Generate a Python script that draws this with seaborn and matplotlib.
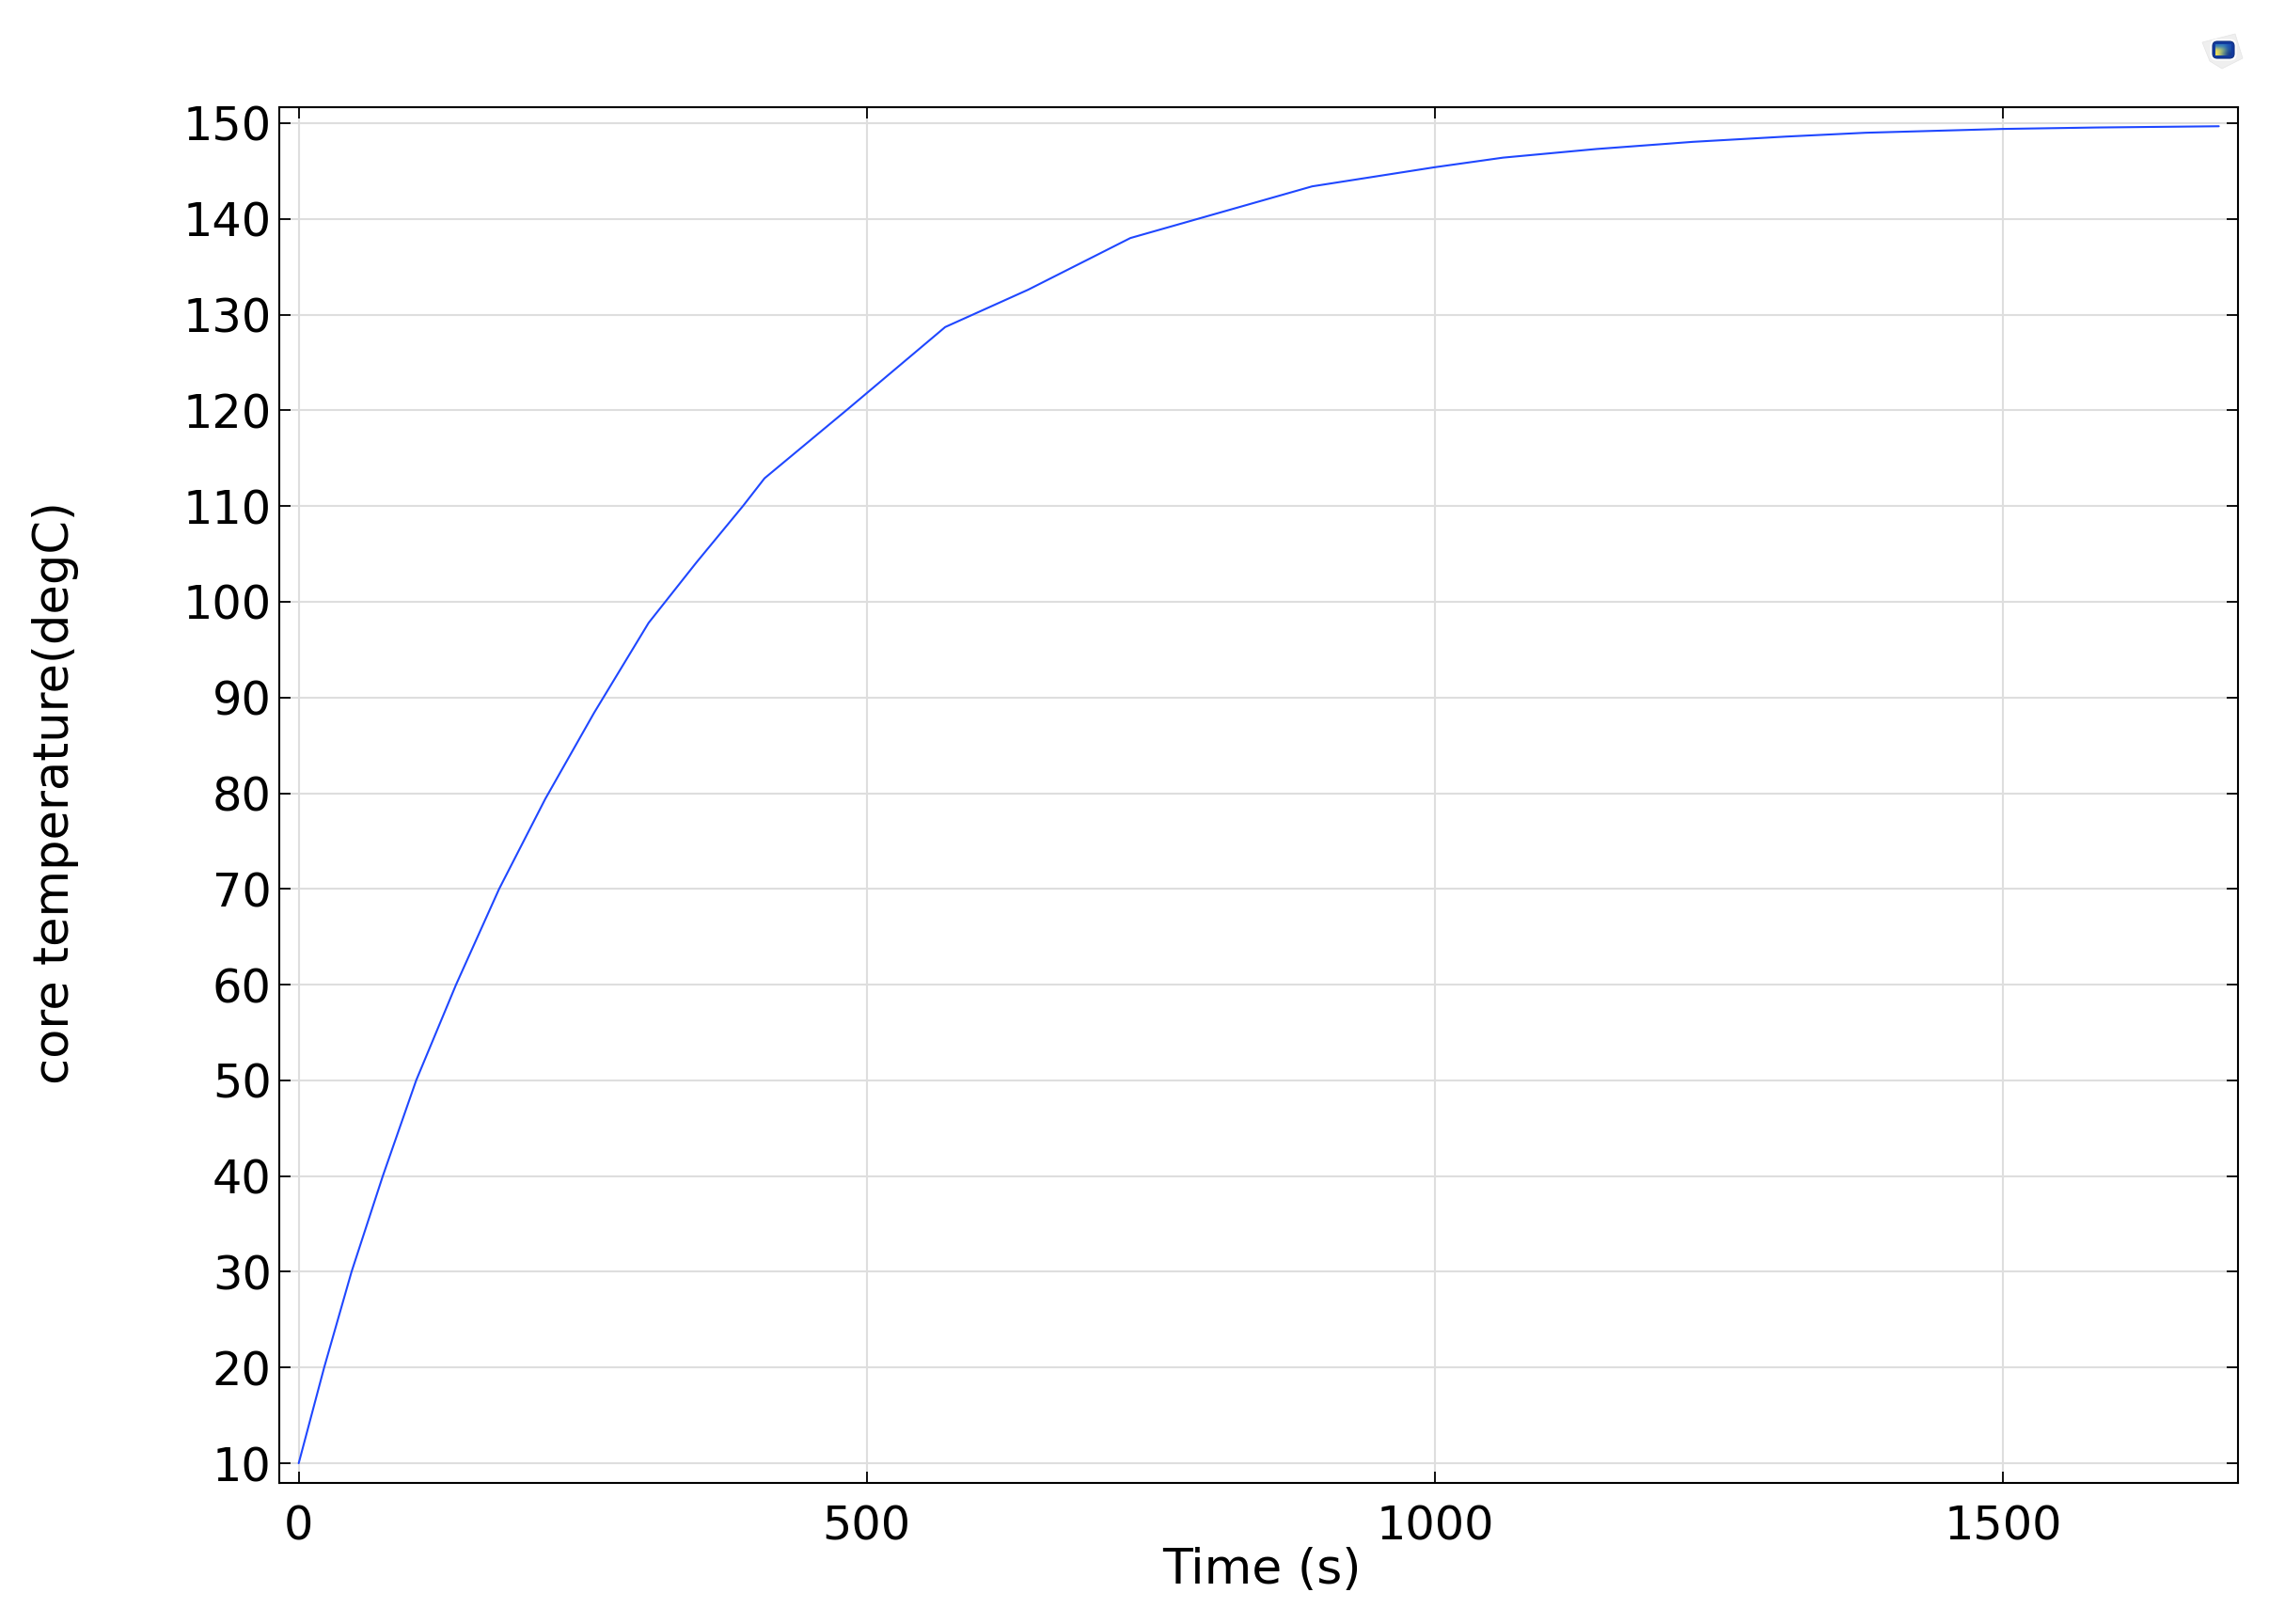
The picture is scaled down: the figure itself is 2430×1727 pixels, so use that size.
import matplotlib
matplotlib.use("Agg")
import matplotlib.pyplot as plt
import numpy as np
import pandas as pd
import seaborn as sns
from matplotlib.patches import FancyBboxPatch, Polygon

time_s = [0, 22.4, 46.5, 74, 103.4, 138.5, 176.4, 217, 260, 308, 350, 391, 410, 483, 500,
          569, 642, 732, 892, 1000, 1060, 1142, 1227, 1309, 1379,
          1500, 1582, 1690]
core_temp = [10, 20, 30, 40, 50, 60, 70, 79.4, 88.4, 97.8, 104.1, 110, 112.9, 120.1, 121.8,
             128.7, 132.6, 138.0, 143.4, 145.4, 146.4, 147.3,
             148.05, 148.6, 149.0, 149.4, 149.55, 149.68]
x_ticks = [0, 500, 1000, 1500]
y_ticks = list(range(10, 151, 10))
x_label = "Time (s)"
y_label = "core temperature(degC)"

W, H = 2430, 1727
sns.set_theme(style="white")
plt.rcParams["font.family"] = ["DejaVu Sans"]
fig = plt.figure(figsize=(W / 100, H / 100), dpi=100, facecolor="white")
L, R, T, B = 297, 2380, 114, 1577
ax = fig.add_axes([L / W, 1 - B / H, (R - L) / W, (B - T) / H])

df = pd.DataFrame({"t": time_s, "temp": core_temp})
sns.lineplot(data=df, x="t", y="temp", ax=ax, color="#1f47ff", linewidth=1.5,
             errorbar=None, estimator=None, zorder=3)

ax.set_xlim(-17.1, 1706.9)
ax.set_ylim(7.94, 151.67)
ax.set_xticks(x_ticks)
ax.set_yticks(y_ticks)
ax.grid(True, color="#dedede", linewidth=1.5)
ax.set_axisbelow(True)
ax.tick_params(axis="both", which="major", direction="in", length=8.6, width=1.3,
               color="black", labelcolor="black", top=True, right=True,
               bottom=True, left=True)
ax.tick_params(axis="y", labelsize=35.6, pad=6)
ax.tick_params(axis="x", labelsize=35.6, pad=16)
for s in ax.spines.values():
    s.set_color("black")
    s.set_linewidth(1.5)
ax.set_xlabel("")
ax.set_ylabel("")
fig.text(1342 / W, 1 - 1670 / H, x_label, fontsize=37.5, color="black", ha="center", va="center")
fig.text(59.5 / W, 1 - 843 / H, y_label, fontsize=36.7, color="black", rotation=90, ha="center", va="center")

# small logo in the top right corner
logo = fig.add_axes([2340 / W, 1 - 80 / H, 48 / W, 48 / H])
logo.axis("off")
logo.add_patch(Polygon([[2, 13], [37, 4], [45, 30], [23, 41], [10, 33]], closed=True,
                       facecolor="#efefef", edgecolor="#e4e4e4", linewidth=0.5))
logo.add_patch(FancyBboxPatch((12, 11), 25, 20, boxstyle="round,pad=0,rounding_size=5",
                              facecolor="#ffffff", edgecolor="#ffffff", linewidth=2))
logo.add_patch(FancyBboxPatch((13, 12), 23, 18, boxstyle="round,pad=0,rounding_size=5",
                              facecolor="#123a9e", edgecolor="#10307f", linewidth=0.8))
gradient = np.array([[[0.15, 0.45, 0.75], [0.2, 0.5, 0.75], [0.1, 0.3, 0.7]],
                     [[0.95, 0.88, 0.35], [0.55, 0.72, 0.5], [0.08, 0.3, 0.65]],
                     [[0.95, 0.88, 0.35], [0.35, 0.55, 0.55], [0.07, 0.2, 0.55]]])
logo.imshow(gradient, extent=(16, 33, 27, 15), interpolation="bicubic", aspect="auto", zorder=3)
logo.set_xlim(0, 48)
logo.set_ylim(48, 0)

fig.savefig("out.png", dpi=100, facecolor="white")
